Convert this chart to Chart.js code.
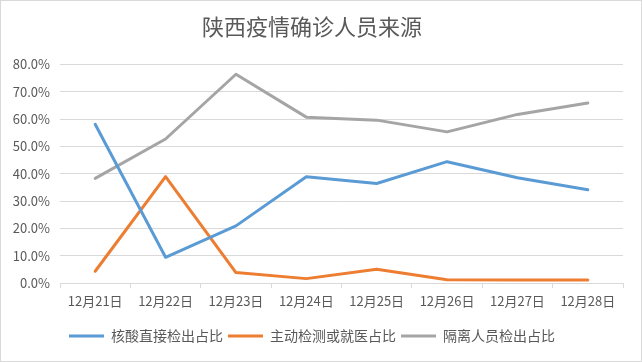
<!DOCTYPE html>
<html>
<head>
<meta charset="utf-8">
<script src="https://cdn.jsdelivr.net/npm/chart.js@4/dist/chart.umd.min.js"></script>
<style>
  body { margin: 0; background: #fff; }
  #wrap { width: 640px; height: 360px; border: 1px solid #d9d9d9; }
</style>
</head>
<body>
<div id="wrap"><canvas id="chart" width="640" height="360"></canvas></div>
<script>
// data (percent)
const days = ["12月21日", "12月22日", "12月23日", "12月24日", "12月25日", "12月26日", "12月27日", "12月28日"];
const nucleicDirect = [58.1, 9.4, 20.9, 38.9, 36.4, 44.4, 38.5, 34.1];
const activeOrClinic = [4.3, 38.9, 3.8, 1.6, 5.0, 1.2, 1.1, 1.1];
const quarantined = [38.3, 52.7, 76.4, 60.7, 59.6, 55.3, 61.7, 65.9];
const yTicks = [0, 10, 20, 30, 40, 50, 60, 70, 80];

const seriesNames = ["核酸直接检出占比", "主动检测或就医占比", "隔离人员检出占比"];
const colors = ["#5b9bd5", "#ed7d31", "#a5a5a5"];
const fontFamily = "'Noto Sans CJK SC', 'Noto Sans', sans-serif";
const textColor = "#595959";

function makeSet(i, data) {
  return {
    label: seriesNames[i],
    data: data,
    borderColor: colors[i],
    backgroundColor: colors[i],
    borderWidth: 3,
    borderCapStyle: "round",
    borderJoinStyle: "round",
    pointRadius: 0,
    tension: 0,
  };
}

new Chart(document.getElementById("chart").getContext("2d"), {
  type: "line",
  data: {
    labels: days,
    datasets: [
      makeSet(0, nucleicDirect),
      makeSet(1, activeOrClinic),
      makeSet(2, quarantined),
    ],
  },
  options: {
    responsive: false,
    animation: false,
    layout: { padding: { left: 0, right: 18, top: 0, bottom: 8 } },
    plugins: {
      title: {
        display: true,
        text: "陕西疫情确诊人员来源",
        color: textColor,
        font: { family: fontFamily, size: 22, weight: "normal" },
        padding: { top: 12, bottom: 25 },
      },
      legend: {
        position: "bottom",
        labels: {
          color: textColor,
          font: { family: fontFamily, size: 14 },
          usePointStyle: true,
          pointStyle: "line",
          pointStyleWidth: 35,
          padding: 5,
        },
      },
      tooltip: { enabled: false },
    },
    scales: {
      x: {
        offset: true,
        afterFit: function (scale) {
          scale.height = 41;
        },
        grid: {
          offset: true,
          drawOnChartArea: false,
          drawTicks: true,
          tickLength: 5,
          color: "#d9d9d9",
        },
        border: { color: "#d9d9d9" },
        ticks: {
          color: textColor,
          font: { family: fontFamily, size: 13 },
          padding: 5,
          maxRotation: 0,
          autoSkip: false,
        },
      },
      y: {
        min: yTicks[0],
        max: yTicks[yTicks.length - 1],
        afterFit: function (scale) {
          scale.width = 59;
        },
        afterBuildTicks: function (scale) {
          scale.ticks = yTicks.map((v) => ({ value: v }));
        },
        grid: { color: "#d9d9d9", drawTicks: false },
        border: { display: false },
        ticks: {
          color: textColor,
          font: { family: fontFamily, size: 13 },
          padding: 10,
          callback: (v) => v.toFixed(1) + "%",
        },
      },
    },
  },
});
</script>
</body>
</html>
